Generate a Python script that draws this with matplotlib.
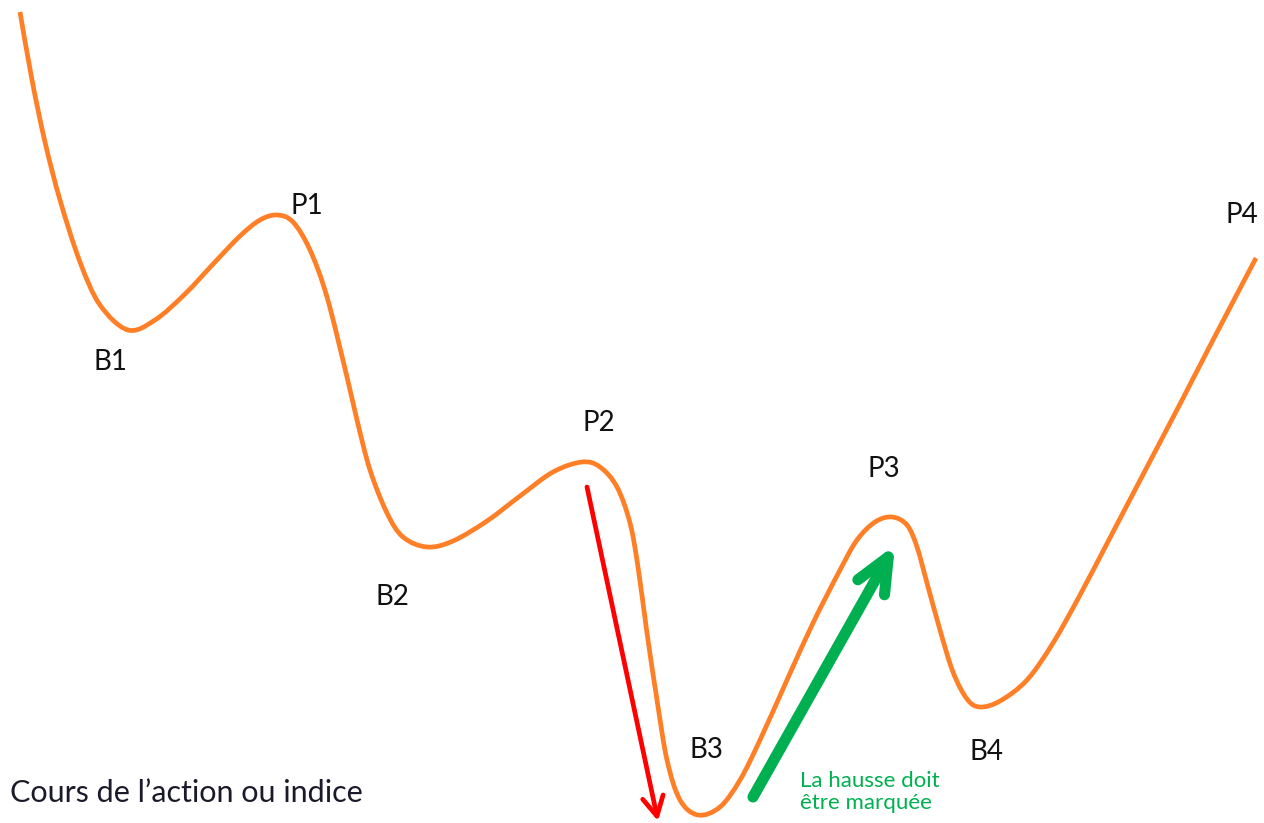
import matplotlib

matplotlib.use("Agg")
import matplotlib.pyplot as plt
import numpy as np
from matplotlib.patches import PathPatch
from matplotlib.path import Path

# curve, in pixels (y grows downward)
curve_x = [20, 32, 45, 60, 80, 100, 128, 155, 185, 215, 240, 260, 277, 293, 310,
           327, 347, 357, 370, 387, 403, 427, 453, 487, 520, 553, 582, 600, 617,
           630, 638, 647, 657, 667, 680, 698, 720, 740, 760, 787, 813, 840, 857,
           875, 892, 907, 917, 927, 940, 953, 967, 980, 1000, 1027, 1053, 1080,
           1113, 1147, 1180, 1213, 1256]
curve_y = [12, 80, 142, 200, 262, 305, 330, 320, 294, 262, 236, 220, 215, 222, 250,
           297, 377, 420, 470, 513, 537, 547, 541, 521, 496, 472, 462, 467, 487,
           523, 567, 633, 700, 760, 800, 815, 807, 780, 740, 680, 623, 570, 540,
           522, 517, 525, 547, 583, 630, 672, 699, 707, 701, 680, 643, 595,
           532, 467, 404, 340, 258]

labels = ["P1", "B1", "P2", "B2", "P3", "B3", "B4", "P4"]
label_x = [307, 110, 599, 392, 884, 706, 987, 1242]
label_y = [206, 362, 423, 597, 469, 750, 752, 215]

fall_arrow = [(587, 487), (658, 821)]
rise_arrow = [(753, 797), (895, 545)]

caption = "Cours de l\u2019action ou indice"
note = "La hausse doit\nêtre marquée"

ORANGE = "#FF7F27"
GREEN = "#00B050"
RED = "#FF0000"

plt.rcParams["font.family"] = ["Lato", "DejaVu Sans"]


def smooth_path(xs, ys):
    # catmull-rom through the read points, drawn as cubic bezier segments
    pts = np.column_stack([xs, ys]).astype(float)
    ext = np.vstack([pts[0], pts, pts[-1]])
    verts = [pts[0]]
    codes = [Path.MOVETO]
    for i in range(1, len(ext) - 2):
        p0, p1, p2, p3 = ext[i - 1], ext[i], ext[i + 1], ext[i + 2]
        verts += [p1 + (p2 - p0) / 6, p2 - (p3 - p1) / 6, p2]
        codes += [Path.CURVE4] * 3
    return Path(verts, codes)


fig = plt.figure(figsize=(12.64, 8.23), dpi=100)
ax = fig.add_axes([0, 0, 1, 1])
ax.set_xlim(0, 1264)
ax.set_ylim(823, 0)
ax.axis("off")

ax.add_patch(PathPatch(smooth_path(curve_x, curve_y), facecolor="none",
                       edgecolor=ORANGE, lw=3.4, capstyle="butt"))

for t, x, y in zip(labels, label_x, label_y):
    ax.text(x, y, t, fontsize=20, ha="center", va="center", color="#111111")

ax.annotate("", xy=fall_arrow[1], xytext=fall_arrow[0],
            arrowprops=dict(arrowstyle="->,head_length=1.4,head_width=0.75",
                            color=RED, lw=3.4, shrinkA=0, shrinkB=0,
                            mutation_scale=10))
ax.annotate("", xy=rise_arrow[1], xytext=rise_arrow[0],
            arrowprops=dict(arrowstyle="->,head_length=2.5,head_width=1.1",
                            color=GREEN, lw=8, shrinkA=0, shrinkB=0,
                            mutation_scale=10, capstyle="round",
                            joinstyle="round"))

ax.text(10, 793, caption, fontsize=22, ha="left", va="center", color="#1a1a2a")
ax.text(800, 792, note, fontsize=16, ha="left", va="center", color=GREEN,
        linespacing=1.15)

fig.savefig("out.png", dpi=100)
